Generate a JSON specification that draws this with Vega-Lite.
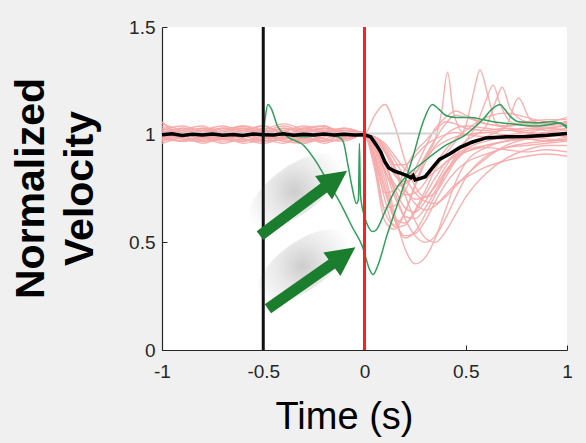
{
"$schema": "https://vega.github.io/schema/vega-lite/v6.json",
"width": 405, "height": 323,
"autosize": {"type": "none"},
"padding": {"left": 162, "top": 27, "right": 19, "bottom": 93},
"background": "#f0f0f0",
"config": {
  "view": {"fill": "white", "stroke": null},
  "font": "Liberation Sans",
  "axis": {"grid": false, "domainColor": "#262626", "domainWidth": 1.2, "tickColor": "#262626", "tickSize": -5, "labelColor": "#262626", "labelFontSize": 19, "labelFont": "Liberation Sans", "labelFlush": false, "labelOverlap": false, "titleColor": "#000000", "titleFont": "Liberation Sans"}
},
"datasets": {
"pink": [
{"g":1,"t":-1,"v":1.06},{"g":1,"t":-0.9,"v":0.99},{"g":1,"t":-0.8,"v":0.97},{"g":1,"t":-0.7,"v":1.01},{"g":1,"t":-0.6,"v":1.03},{"g":1,"t":-0.5,"v":0.99},{"g":1,"t":-0.4,"v":0.96},{"g":1,"t":-0.3,"v":1.0},{"g":1,"t":-0.2,"v":1.03},{"g":1,"t":-0.1,"v":0.99},{"g":1,"t":0,"v":1.0},
{"g":1,"t":0.05,"v":0.96},{"g":1,"t":0.1,"v":0.82},{"g":1,"t":0.15,"v":0.63},{"g":1,"t":0.2,"v":0.47},{"g":1,"t":0.25,"v":0.4},{"g":1,"t":0.3,"v":0.43},{"g":1,"t":0.35,"v":0.52},{"g":1,"t":0.4,"v":0.65},{"g":1,"t":0.45,"v":0.78},{"g":1,"t":0.5,"v":0.87},{"g":1,"t":0.6,"v":0.94},{"g":1,"t":0.7,"v":0.97},{"g":1,"t":0.8,"v":0.98},{"g":1,"t":0.9,"v":0.97},{"g":1,"t":1,"v":0.98},
{"g":2,"t":-1,"v":0.98},{"g":2,"t":-0.9,"v":1.02},{"g":2,"t":-0.8,"v":1.04},{"g":2,"t":-0.7,"v":0.99},{"g":2,"t":-0.6,"v":0.97},{"g":2,"t":-0.5,"v":1.01},{"g":2,"t":-0.4,"v":1.04},{"g":2,"t":-0.3,"v":1.01},{"g":2,"t":-0.2,"v":0.98},{"g":2,"t":-0.1,"v":1.01},{"g":2,"t":0,"v":1.0},
{"g":2,"t":0.05,"v":1.09},{"g":2,"t":0.1,"v":1.14},{"g":2,"t":0.15,"v":1.04},{"g":2,"t":0.2,"v":0.88},{"g":2,"t":0.25,"v":0.76},{"g":2,"t":0.3,"v":0.71},{"g":2,"t":0.35,"v":0.73},{"g":2,"t":0.4,"v":0.8},{"g":2,"t":0.45,"v":0.88},{"g":2,"t":0.5,"v":0.93},{"g":2,"t":0.6,"v":0.97},{"g":2,"t":0.7,"v":0.99},{"g":2,"t":0.8,"v":1.0},{"g":2,"t":0.9,"v":1.01},{"g":2,"t":1,"v":1.0},
{"g":3,"t":-1,"v":1.03},{"g":3,"t":-0.9,"v":1.0},{"g":3,"t":-0.8,"v":0.97},{"g":3,"t":-0.7,"v":0.98},{"g":3,"t":-0.6,"v":1.02},{"g":3,"t":-0.5,"v":1.04},{"g":3,"t":-0.4,"v":1.0},{"g":3,"t":-0.3,"v":0.96},{"g":3,"t":-0.2,"v":0.99},{"g":3,"t":-0.1,"v":1.02},{"g":3,"t":0,"v":1.01},
{"g":3,"t":0.05,"v":0.86},{"g":3,"t":0.1,"v":0.64},{"g":3,"t":0.15,"v":0.58},{"g":3,"t":0.2,"v":0.64},{"g":3,"t":0.25,"v":0.77},{"g":3,"t":0.3,"v":0.89},{"g":3,"t":0.35,"v":0.98},{"g":3,"t":0.38,"v":1.1},{"g":3,"t":0.41,"v":1.29},{"g":3,"t":0.44,"v":1.1},{"g":3,"t":0.5,"v":1.0},{"g":3,"t":0.6,"v":1.01},{"g":3,"t":0.7,"v":1.02},{"g":3,"t":0.8,"v":1.01},{"g":3,"t":0.9,"v":1.03},{"g":3,"t":1,"v":1.04},
{"g":4,"t":-1,"v":0.96},{"g":4,"t":-0.9,"v":0.99},{"g":4,"t":-0.8,"v":1.02},{"g":4,"t":-0.7,"v":1.04},{"g":4,"t":-0.6,"v":1.01},{"g":4,"t":-0.5,"v":0.98},{"g":4,"t":-0.4,"v":0.99},{"g":4,"t":-0.3,"v":1.03},{"g":4,"t":-0.2,"v":1.04},{"g":4,"t":-0.1,"v":1.0},{"g":4,"t":0,"v":0.99},
{"g":4,"t":0.05,"v":0.9},{"g":4,"t":0.1,"v":0.7},{"g":4,"t":0.15,"v":0.57},{"g":4,"t":0.2,"v":0.58},{"g":4,"t":0.25,"v":0.65},{"g":4,"t":0.3,"v":0.74},{"g":4,"t":0.35,"v":0.84},{"g":4,"t":0.4,"v":0.91},{"g":4,"t":0.45,"v":0.97},{"g":4,"t":0.5,"v":1.04},{"g":4,"t":0.54,"v":1.2},{"g":4,"t":0.57,"v":1.3},{"g":4,"t":0.61,"v":1.18},{"g":4,"t":0.65,"v":1.05},{"g":4,"t":0.7,"v":1.03},{"g":4,"t":0.8,"v":1.01},{"g":4,"t":0.9,"v":1.0},{"g":4,"t":1,"v":0.99},
{"g":5,"t":-1,"v":1.01},{"g":5,"t":-0.9,"v":1.03},{"g":5,"t":-0.8,"v":1.0},{"g":5,"t":-0.7,"v":0.97},{"g":5,"t":-0.6,"v":0.98},{"g":5,"t":-0.5,"v":1.02},{"g":5,"t":-0.4,"v":1.05},{"g":5,"t":-0.3,"v":1.02},{"g":5,"t":-0.2,"v":0.97},{"g":5,"t":-0.1,"v":0.98},{"g":5,"t":0,"v":1.0},
{"g":5,"t":0.05,"v":0.94},{"g":5,"t":0.1,"v":0.79},{"g":5,"t":0.15,"v":0.61},{"g":5,"t":0.2,"v":0.52},{"g":5,"t":0.25,"v":0.55},{"g":5,"t":0.3,"v":0.63},{"g":5,"t":0.35,"v":0.72},{"g":5,"t":0.4,"v":0.82},{"g":5,"t":0.45,"v":0.9},{"g":5,"t":0.5,"v":0.97},{"g":5,"t":0.55,"v":1.04},{"g":5,"t":0.6,"v":1.16},{"g":5,"t":0.635,"v":1.23},{"g":5,"t":0.67,"v":1.14},{"g":5,"t":0.72,"v":1.06},{"g":5,"t":0.8,"v":1.04},{"g":5,"t":0.9,"v":1.03},{"g":5,"t":1,"v":1.05},
{"g":6,"t":-1,"v":1.0},{"g":6,"t":-0.9,"v":0.97},{"g":6,"t":-0.8,"v":0.99},{"g":6,"t":-0.7,"v":1.02},{"g":6,"t":-0.6,"v":1.04},{"g":6,"t":-0.5,"v":1.0},{"g":6,"t":-0.4,"v":0.97},{"g":6,"t":-0.3,"v":0.98},{"g":6,"t":-0.2,"v":1.01},{"g":6,"t":-0.1,"v":1.03},{"g":6,"t":0,"v":1.0},
{"g":6,"t":0.05,"v":0.97},{"g":6,"t":0.1,"v":0.88},{"g":6,"t":0.15,"v":0.75},{"g":6,"t":0.2,"v":0.66},{"g":6,"t":0.25,"v":0.64},{"g":6,"t":0.3,"v":0.69},{"g":6,"t":0.35,"v":0.77},{"g":6,"t":0.4,"v":0.85},{"g":6,"t":0.45,"v":0.92},{"g":6,"t":0.5,"v":0.97},{"g":6,"t":0.6,"v":1.04},{"g":6,"t":0.65,"v":1.16},{"g":6,"t":0.68,"v":1.22},{"g":6,"t":0.72,"v":1.12},{"g":6,"t":0.8,"v":1.06},{"g":6,"t":0.9,"v":1.05},{"g":6,"t":1,"v":1.06},
{"g":7,"t":-1,"v":0.99},{"g":7,"t":-0.9,"v":1.01},{"g":7,"t":-0.8,"v":1.03},{"g":7,"t":-0.7,"v":1.0},{"g":7,"t":-0.6,"v":0.96},{"g":7,"t":-0.5,"v":0.98},{"g":7,"t":-0.4,"v":1.02},{"g":7,"t":-0.3,"v":1.03},{"g":7,"t":-0.2,"v":1.0},{"g":7,"t":-0.1,"v":0.98},{"g":7,"t":0,"v":1.0},
{"g":7,"t":0.05,"v":0.98},{"g":7,"t":0.1,"v":0.92},{"g":7,"t":0.15,"v":0.82},{"g":7,"t":0.2,"v":0.74},{"g":7,"t":0.25,"v":0.7},{"g":7,"t":0.3,"v":0.71},{"g":7,"t":0.35,"v":0.76},{"g":7,"t":0.4,"v":0.83},{"g":7,"t":0.45,"v":0.89},{"g":7,"t":0.5,"v":0.94},{"g":7,"t":0.6,"v":0.99},{"g":7,"t":0.7,"v":1.04},{"g":7,"t":0.76,"v":1.17},{"g":7,"t":0.82,"v":1.07},{"g":7,"t":0.9,"v":1.05},{"g":7,"t":1,"v":1.05},
{"g":8,"t":-1,"v":1.02},{"g":8,"t":-0.9,"v":0.98},{"g":8,"t":-0.8,"v":0.99},{"g":8,"t":-0.7,"v":1.03},{"g":8,"t":-0.6,"v":1.02},{"g":8,"t":-0.5,"v":0.97},{"g":8,"t":-0.4,"v":0.98},{"g":8,"t":-0.3,"v":1.02},{"g":8,"t":-0.2,"v":1.01},{"g":8,"t":-0.1,"v":0.99},{"g":8,"t":0,"v":1.01},
{"g":8,"t":0.05,"v":0.95},{"g":8,"t":0.1,"v":0.83},{"g":8,"t":0.15,"v":0.76},{"g":8,"t":0.2,"v":0.77},{"g":8,"t":0.25,"v":0.82},{"g":8,"t":0.3,"v":0.89},{"g":8,"t":0.35,"v":0.94},{"g":8,"t":0.4,"v":0.97},{"g":8,"t":0.45,"v":0.99},{"g":8,"t":0.5,"v":1.0},{"g":8,"t":0.6,"v":1.01},{"g":8,"t":0.7,"v":1.0},{"g":8,"t":0.8,"v":1.01},{"g":8,"t":0.9,"v":1.0},{"g":8,"t":1,"v":1.01},
{"g":9,"t":-1,"v":0.97},{"g":9,"t":-0.9,"v":1.0},{"g":9,"t":-0.8,"v":1.03},{"g":9,"t":-0.7,"v":1.02},{"g":9,"t":-0.6,"v":0.98},{"g":9,"t":-0.5,"v":0.97},{"g":9,"t":-0.4,"v":1.01},{"g":9,"t":-0.3,"v":1.04},{"g":9,"t":-0.2,"v":1.02},{"g":9,"t":-0.1,"v":0.99},{"g":9,"t":0,"v":1.0},
{"g":9,"t":0.05,"v":0.99},{"g":9,"t":0.1,"v":0.93},{"g":9,"t":0.15,"v":0.84},{"g":9,"t":0.2,"v":0.75},{"g":9,"t":0.25,"v":0.68},{"g":9,"t":0.3,"v":0.65},{"g":9,"t":0.35,"v":0.67},{"g":9,"t":0.4,"v":0.72},{"g":9,"t":0.45,"v":0.77},{"g":9,"t":0.5,"v":0.8},{"g":9,"t":0.6,"v":0.85},{"g":9,"t":0.7,"v":0.88},{"g":9,"t":0.8,"v":0.9},{"g":9,"t":0.9,"v":0.91},{"g":9,"t":1,"v":0.9},
{"g":10,"t":-1,"v":1.04},{"g":10,"t":-0.9,"v":1.01},{"g":10,"t":-0.8,"v":0.98},{"g":10,"t":-0.7,"v":0.99},{"g":10,"t":-0.6,"v":1.02},{"g":10,"t":-0.5,"v":1.01},{"g":10,"t":-0.4,"v":0.97},{"g":10,"t":-0.3,"v":0.96},{"g":10,"t":-0.2,"v":1.0},{"g":10,"t":-0.1,"v":1.03},{"g":10,"t":0,"v":1.0},
{"g":10,"t":0.05,"v":0.84},{"g":10,"t":0.1,"v":0.6},{"g":10,"t":0.15,"v":0.56},{"g":10,"t":0.2,"v":0.64},{"g":10,"t":0.25,"v":0.76},{"g":10,"t":0.3,"v":0.87},{"g":10,"t":0.35,"v":0.95},{"g":10,"t":0.4,"v":1.0},{"g":10,"t":0.45,"v":1.03},{"g":10,"t":0.5,"v":1.04},{"g":10,"t":0.6,"v":1.03},{"g":10,"t":0.7,"v":1.02},{"g":10,"t":0.8,"v":1.03},{"g":10,"t":0.9,"v":1.02},{"g":10,"t":1,"v":1.03},
{"g":11,"t":-1,"v":1.0},{"g":11,"t":-0.9,"v":1.02},{"g":11,"t":-0.8,"v":0.99},{"g":11,"t":-0.7,"v":0.96},{"g":11,"t":-0.6,"v":0.99},{"g":11,"t":-0.5,"v":1.03},{"g":11,"t":-0.4,"v":1.02},{"g":11,"t":-0.3,"v":0.99},{"g":11,"t":-0.2,"v":0.97},{"g":11,"t":-0.1,"v":1.0},{"g":11,"t":0,"v":0.99},
{"g":11,"t":0.05,"v":0.97},{"g":11,"t":0.1,"v":0.89},{"g":11,"t":0.15,"v":0.81},{"g":11,"t":0.2,"v":0.78},{"g":11,"t":0.25,"v":0.82},{"g":11,"t":0.3,"v":0.9},{"g":11,"t":0.35,"v":0.98},{"g":11,"t":0.4,"v":1.05},{"g":11,"t":0.45,"v":1.09},{"g":11,"t":0.5,"v":1.08},{"g":11,"t":0.6,"v":1.05},{"g":11,"t":0.7,"v":1.04},{"g":11,"t":0.8,"v":1.05},{"g":11,"t":0.9,"v":1.04},{"g":11,"t":1,"v":1.06},
{"g":12,"t":-1,"v":0.98},{"g":12,"t":-0.9,"v":0.97},{"g":12,"t":-0.8,"v":1.0},{"g":12,"t":-0.7,"v":1.03},{"g":12,"t":-0.6,"v":1.03},{"g":12,"t":-0.5,"v":1.0},{"g":12,"t":-0.4,"v":0.98},{"g":12,"t":-0.3,"v":1.0},{"g":12,"t":-0.2,"v":1.03},{"g":12,"t":-0.1,"v":1.01},{"g":12,"t":0,"v":1.0},
{"g":12,"t":0.05,"v":0.99},{"g":12,"t":0.1,"v":0.94},{"g":12,"t":0.15,"v":0.85},{"g":12,"t":0.2,"v":0.72},{"g":12,"t":0.25,"v":0.6},{"g":12,"t":0.3,"v":0.52},{"g":12,"t":0.35,"v":0.5},{"g":12,"t":0.4,"v":0.55},{"g":12,"t":0.45,"v":0.63},{"g":12,"t":0.5,"v":0.71},{"g":12,"t":0.6,"v":0.82},{"g":12,"t":0.7,"v":0.89},{"g":12,"t":0.8,"v":0.93},{"g":12,"t":0.9,"v":0.95},{"g":12,"t":1,"v":0.95},
{"g":13,"t":-1,"v":1.02},{"g":13,"t":-0.9,"v":1.04},{"g":13,"t":-0.8,"v":1.01},{"g":13,"t":-0.7,"v":0.98},{"g":13,"t":-0.6,"v":0.97},{"g":13,"t":-0.5,"v":1.0},{"g":13,"t":-0.4,"v":1.03},{"g":13,"t":-0.3,"v":1.01},{"g":13,"t":-0.2,"v":0.98},{"g":13,"t":-0.1,"v":0.97},{"g":13,"t":0,"v":1.0},
{"g":13,"t":0.05,"v":0.95},{"g":13,"t":0.1,"v":0.84},{"g":13,"t":0.15,"v":0.71},{"g":13,"t":0.2,"v":0.62},{"g":13,"t":0.25,"v":0.61},{"g":13,"t":0.3,"v":0.66},{"g":13,"t":0.35,"v":0.74},{"g":13,"t":0.4,"v":0.82},{"g":13,"t":0.45,"v":0.88},{"g":13,"t":0.5,"v":0.92},{"g":13,"t":0.6,"v":0.94},{"g":13,"t":0.7,"v":0.93},{"g":13,"t":0.8,"v":0.92},{"g":13,"t":0.9,"v":0.93},{"g":13,"t":1,"v":0.92},
{"g":14,"t":-1,"v":0.99},{"g":14,"t":-0.9,"v":0.97},{"g":14,"t":-0.8,"v":0.98},{"g":14,"t":-0.7,"v":1.01},{"g":14,"t":-0.6,"v":1.04},{"g":14,"t":-0.5,"v":1.02},{"g":14,"t":-0.4,"v":0.99},{"g":14,"t":-0.3,"v":0.97},{"g":14,"t":-0.2,"v":0.99},{"g":14,"t":-0.1,"v":1.02},{"g":14,"t":0,"v":1.01},
{"g":14,"t":0.05,"v":0.9},{"g":14,"t":0.1,"v":0.73},{"g":14,"t":0.15,"v":0.74},{"g":14,"t":0.2,"v":0.84},{"g":14,"t":0.25,"v":0.92},{"g":14,"t":0.3,"v":0.97},{"g":14,"t":0.35,"v":1.02},{"g":14,"t":0.4,"v":1.06},{"g":14,"t":0.45,"v":1.05},{"g":14,"t":0.5,"v":1.03},{"g":14,"t":0.6,"v":1.02},{"g":14,"t":0.7,"v":1.03},{"g":14,"t":0.8,"v":1.02},{"g":14,"t":0.9,"v":1.03},{"g":14,"t":1,"v":1.02},
{"g":15,"t":-1,"v":1.01},{"g":15,"t":-0.9,"v":0.99},{"g":15,"t":-0.8,"v":1.02},{"g":15,"t":-0.7,"v":1.0},{"g":15,"t":-0.6,"v":0.97},{"g":15,"t":-0.5,"v":0.99},{"g":15,"t":-0.4,"v":1.03},{"g":15,"t":-0.3,"v":1.0},{"g":15,"t":-0.2,"v":0.96},{"g":15,"t":-0.1,"v":0.99},{"g":15,"t":0,"v":1.0},
{"g":15,"t":0.05,"v":0.93},{"g":15,"t":0.1,"v":0.76},{"g":15,"t":0.15,"v":0.6},{"g":15,"t":0.2,"v":0.53},{"g":15,"t":0.25,"v":0.54},{"g":15,"t":0.3,"v":0.6},{"g":15,"t":0.35,"v":0.69},{"g":15,"t":0.4,"v":0.77},{"g":15,"t":0.45,"v":0.83},{"g":15,"t":0.5,"v":0.87},{"g":15,"t":0.6,"v":0.91},{"g":15,"t":0.7,"v":0.94},{"g":15,"t":0.8,"v":0.95},{"g":15,"t":0.9,"v":0.96},{"g":15,"t":1,"v":0.97},
{"g":16,"t":-1,"v":0.97},{"g":16,"t":-0.9,"v":1.01},{"g":16,"t":-0.8,"v":1.0},{"g":16,"t":-0.7,"v":0.98},{"g":16,"t":-0.6,"v":1.01},{"g":16,"t":-0.5,"v":1.04},{"g":16,"t":-0.4,"v":1.0},{"g":16,"t":-0.3,"v":0.97},{"g":16,"t":-0.2,"v":1.0},{"g":16,"t":-0.1,"v":1.02},{"g":16,"t":0,"v":1.0},
{"g":16,"t":0.05,"v":0.98},{"g":16,"t":0.1,"v":0.92},{"g":16,"t":0.15,"v":0.86},{"g":16,"t":0.2,"v":0.86},{"g":16,"t":0.25,"v":0.9},{"g":16,"t":0.3,"v":0.95},{"g":16,"t":0.35,"v":0.98},{"g":16,"t":0.4,"v":1.0},{"g":16,"t":0.45,"v":1.01},{"g":16,"t":0.5,"v":1.0},{"g":16,"t":0.6,"v":0.99},{"g":16,"t":0.7,"v":0.98},{"g":16,"t":0.8,"v":0.99},{"g":16,"t":0.9,"v":0.98},{"g":16,"t":1,"v":0.97},
{"g":17,"t":-1,"v":1.03},{"g":17,"t":-0.9,"v":1.0},{"g":17,"t":-0.8,"v":0.96},{"g":17,"t":-0.7,"v":0.99},{"g":17,"t":-0.6,"v":1.02},{"g":17,"t":-0.5,"v":0.99},{"g":17,"t":-0.4,"v":0.98},{"g":17,"t":-0.3,"v":1.02},{"g":17,"t":-0.2,"v":1.04},{"g":17,"t":-0.1,"v":1.0},{"g":17,"t":0,"v":1.0},
{"g":17,"t":0.05,"v":0.99},{"g":17,"t":0.1,"v":0.95},{"g":17,"t":0.15,"v":0.88},{"g":17,"t":0.2,"v":0.8},{"g":17,"t":0.25,"v":0.73},{"g":17,"t":0.3,"v":0.69},{"g":17,"t":0.35,"v":0.68},{"g":17,"t":0.4,"v":0.71},{"g":17,"t":0.45,"v":0.76},{"g":17,"t":0.5,"v":0.81},{"g":17,"t":0.6,"v":0.89},{"g":17,"t":0.7,"v":0.95},{"g":17,"t":0.8,"v":0.98},{"g":17,"t":0.9,"v":0.99},{"g":17,"t":1,"v":1.0},
{"g":18,"t":-1,"v":1.0},{"g":18,"t":-0.9,"v":1.03},{"g":18,"t":-0.8,"v":1.02},{"g":18,"t":-0.7,"v":0.98},{"g":18,"t":-0.6,"v":0.99},{"g":18,"t":-0.5,"v":1.01},{"g":18,"t":-0.4,"v":0.98},{"g":18,"t":-0.3,"v":0.99},{"g":18,"t":-0.2,"v":1.02},{"g":18,"t":-0.1,"v":1.01},{"g":18,"t":0,"v":1.0},
{"g":18,"t":0.05,"v":0.91},{"g":18,"t":0.1,"v":0.74},{"g":18,"t":0.15,"v":0.61},{"g":18,"t":0.2,"v":0.59},{"g":18,"t":0.25,"v":0.64},{"g":18,"t":0.3,"v":0.72},{"g":18,"t":0.35,"v":0.8},{"g":18,"t":0.4,"v":0.87},{"g":18,"t":0.45,"v":0.91},{"g":18,"t":0.5,"v":0.93},{"g":18,"t":0.6,"v":0.95},{"g":18,"t":0.7,"v":0.97},{"g":18,"t":0.8,"v":0.98},{"g":18,"t":0.9,"v":0.97},{"g":18,"t":1,"v":0.98},
{"g":19,"t":-1,"v":0.98},{"g":19,"t":-0.9,"v":0.99},{"g":19,"t":-0.8,"v":1.02},{"g":19,"t":-0.7,"v":1.01},{"g":19,"t":-0.6,"v":0.98},{"g":19,"t":-0.5,"v":0.96},{"g":19,"t":-0.4,"v":0.99},{"g":19,"t":-0.3,"v":1.03},{"g":19,"t":-0.2,"v":1.01},{"g":19,"t":-0.1,"v":0.98},{"g":19,"t":0,"v":1.0},
{"g":19,"t":0.05,"v":0.99},{"g":19,"t":0.1,"v":0.96},{"g":19,"t":0.15,"v":0.9},{"g":19,"t":0.2,"v":0.84},{"g":19,"t":0.25,"v":0.81},{"g":19,"t":0.3,"v":0.8},{"g":19,"t":0.35,"v":0.83},{"g":19,"t":0.4,"v":0.87},{"g":19,"t":0.45,"v":0.9},{"g":19,"t":0.5,"v":0.92},{"g":19,"t":0.6,"v":0.95},{"g":19,"t":0.7,"v":0.97},{"g":19,"t":0.8,"v":0.99},{"g":19,"t":0.9,"v":1.01},{"g":19,"t":1,"v":1.02},
{"g":20,"t":-1,"v":1.05},{"g":20,"t":-0.9,"v":1.02},{"g":20,"t":-0.8,"v":0.99},{"g":20,"t":-0.7,"v":0.98},{"g":20,"t":-0.6,"v":1.0},{"g":20,"t":-0.5,"v":1.02},{"g":20,"t":-0.4,"v":1.01},{"g":20,"t":-0.3,"v":0.98},{"g":20,"t":-0.2,"v":0.97},{"g":20,"t":-0.1,"v":1.0},{"g":20,"t":0,"v":1.0},
{"g":20,"t":0.05,"v":0.88},{"g":20,"t":0.1,"v":0.66},{"g":20,"t":0.15,"v":0.67},{"g":20,"t":0.2,"v":0.74},{"g":20,"t":0.25,"v":0.84},{"g":20,"t":0.3,"v":0.94},{"g":20,"t":0.35,"v":1.03},{"g":20,"t":0.4,"v":1.08},{"g":20,"t":0.45,"v":1.11},{"g":20,"t":0.5,"v":1.09},{"g":20,"t":0.6,"v":1.05},{"g":20,"t":0.7,"v":1.04},{"g":20,"t":0.8,"v":1.06},{"g":20,"t":0.9,"v":1.07},{"g":20,"t":1,"v":1.07},
{"g":21,"t":-1,"v":0.99},{"g":21,"t":-0.9,"v":1.0},{"g":21,"t":-0.8,"v":1.01},{"g":21,"t":-0.7,"v":1.03},{"g":21,"t":-0.6,"v":1.0},{"g":21,"t":-0.5,"v":0.97},{"g":21,"t":-0.4,"v":0.98},{"g":21,"t":-0.3,"v":1.01},{"g":21,"t":-0.2,"v":1.03},{"g":21,"t":-0.1,"v":1.02},{"g":21,"t":0,"v":1.0},
{"g":21,"t":0.05,"v":0.97},{"g":21,"t":0.1,"v":0.87},{"g":21,"t":0.15,"v":0.73},{"g":21,"t":0.2,"v":0.61},{"g":21,"t":0.25,"v":0.53},{"g":21,"t":0.3,"v":0.5},{"g":21,"t":0.35,"v":0.53},{"g":21,"t":0.4,"v":0.61},{"g":21,"t":0.45,"v":0.71},{"g":21,"t":0.5,"v":0.8},{"g":21,"t":0.6,"v":0.9},{"g":21,"t":0.7,"v":0.94},{"g":21,"t":0.8,"v":0.96},{"g":21,"t":0.9,"v":0.97},{"g":21,"t":1,"v":0.99},
{"g":22,"t":-1,"v":1.01},{"g":22,"t":-0.9,"v":0.98},{"g":22,"t":-0.8,"v":0.97},{"g":22,"t":-0.7,"v":1.0},{"g":22,"t":-0.6,"v":1.03},{"g":22,"t":-0.5,"v":1.02},{"g":22,"t":-0.4,"v":0.99},{"g":22,"t":-0.3,"v":0.98},{"g":22,"t":-0.2,"v":1.01},{"g":22,"t":-0.1,"v":1.0},{"g":22,"t":0,"v":0.99},
{"g":22,"t":0.05,"v":0.96},{"g":22,"t":0.1,"v":0.86},{"g":22,"t":0.15,"v":0.77},{"g":22,"t":0.2,"v":0.72},{"g":22,"t":0.25,"v":0.73},{"g":22,"t":0.3,"v":0.78},{"g":22,"t":0.35,"v":0.86},{"g":22,"t":0.4,"v":0.93},{"g":22,"t":0.45,"v":0.98},{"g":22,"t":0.5,"v":1.02},{"g":22,"t":0.6,"v":1.08},{"g":22,"t":0.7,"v":1.1},{"g":22,"t":0.8,"v":1.08},{"g":22,"t":0.9,"v":1.06},{"g":22,"t":1,"v":1.08}
],
"gray": [{"t":-1,"v":1.005},{"t":0.37,"v":1.005}],
"green": [
{"g":"A","t":-0.5,"v":1.0},{"g":"A","t":-0.49,"v":1.08},{"g":"A","t":-0.477,"v":1.14},{"g":"A","t":-0.46,"v":1.12},{"g":"A","t":-0.43,"v":1.04},{"g":"A","t":-0.38,"v":0.99},{"g":"A","t":-0.3,"v":0.95},{"g":"A","t":-0.25,"v":0.89},{"g":"A","t":-0.21,"v":0.83},{"g":"A","t":-0.17,"v":0.76},{"g":"A","t":-0.136,"v":0.71},{"g":"A","t":-0.11,"v":0.665},{"g":"A","t":-0.06,"v":0.57},{"g":"A","t":-0.01,"v":0.48},{"g":"A","t":0.027,"v":0.37},{"g":"A","t":0.042,"v":0.35},{"g":"A","t":0.065,"v":0.39},{"g":"A","t":0.11,"v":0.53},{"g":"A","t":0.175,"v":0.71},{"g":"A","t":0.24,"v":0.9},{"g":"A","t":0.29,"v":1.06},{"g":"A","t":0.335,"v":1.14},{"g":"A","t":0.365,"v":1.12},{"g":"A","t":0.4,"v":1.09},{"g":"A","t":0.45,"v":1.08},{"g":"A","t":0.52,"v":1.08},{"g":"A","t":0.585,"v":1.07},{"g":"A","t":0.635,"v":1.06},{"g":"A","t":0.73,"v":1.05},{"g":"A","t":0.85,"v":1.04},{"g":"A","t":0.93,"v":1.05},{"g":"A","t":0.96,"v":1.055},{"g":"A","t":1,"v":1.03},
{"g":"B","t":-0.5,"v":1.0},{"g":"B","t":-0.4,"v":1.0},{"g":"B","t":-0.3,"v":0.99},{"g":"B","t":-0.2,"v":1.0},{"g":"B","t":-0.13,"v":0.99},{"g":"B","t":-0.106,"v":0.97},{"g":"B","t":-0.08,"v":0.85},{"g":"B","t":-0.06,"v":0.75},{"g":"B","t":-0.04,"v":0.68},{"g":"B","t":-0.03,"v":0.7},{"g":"B","t":-0.025,"v":0.96},{"g":"B","t":-0.02,"v":0.72},{"g":"B","t":0,"v":0.62},{"g":"B","t":0.02,"v":0.57},{"g":"B","t":0.04,"v":0.55},{"g":"B","t":0.06,"v":0.56},{"g":"B","t":0.1,"v":0.64},{"g":"B","t":0.15,"v":0.74},{"g":"B","t":0.2,"v":0.8},{"g":"B","t":0.3,"v":0.88},{"g":"B","t":0.4,"v":0.95},{"g":"B","t":0.5,"v":1.0},{"g":"B","t":0.55,"v":1.04},{"g":"B","t":0.585,"v":1.07},{"g":"B","t":0.62,"v":1.11},{"g":"B","t":0.67,"v":1.14},{"g":"B","t":0.69,"v":1.12},{"g":"B","t":0.72,"v":1.085},{"g":"B","t":0.76,"v":1.06},{"g":"B","t":0.85,"v":1.055},{"g":"B","t":0.92,"v":1.06},{"g":"B","t":0.96,"v":1.055},{"g":"B","t":1,"v":1.04}
],
"mean": [
{"t":-1,"v":1.0},{"t":-0.95,"v":1.004},{"t":-0.9,"v":0.996},{"t":-0.85,"v":1.002},{"t":-0.8,"v":0.998},{"t":-0.75,"v":1.003},{"t":-0.7,"v":0.997},{"t":-0.65,"v":1.001},{"t":-0.6,"v":0.996},{"t":-0.55,"v":1.003},{"t":-0.5,"v":1.0},{"t":-0.45,"v":0.998},{"t":-0.4,"v":1.004},{"t":-0.35,"v":0.997},{"t":-0.3,"v":1.002},{"t":-0.25,"v":0.998},{"t":-0.2,"v":1.003},{"t":-0.15,"v":0.999},{"t":-0.1,"v":1.002},{"t":-0.05,"v":0.998},{"t":0,"v":1.0},
{"t":0.03,"v":0.99},{"t":0.06,"v":0.95},{"t":0.08,"v":0.92},{"t":0.1,"v":0.875},{"t":0.12,"v":0.845},{"t":0.15,"v":0.83},{"t":0.18,"v":0.82},{"t":0.21,"v":0.81},{"t":0.23,"v":0.8},{"t":0.24,"v":0.81},{"t":0.25,"v":0.79},{"t":0.27,"v":0.795},{"t":0.3,"v":0.805},{"t":0.33,"v":0.84},{"t":0.37,"v":0.885},{"t":0.42,"v":0.91},{"t":0.47,"v":0.94},{"t":0.53,"v":0.965},{"t":0.6,"v":0.985},{"t":0.7,"v":0.99},{"t":0.8,"v":0.992},{"t":0.9,"v":0.997},{"t":1,"v":1.005}
],
"cue": [{"t":-0.5,"v":0,"v2":1.5}],
"onset": [{"t":0,"v":0,"v2":1.5}],
"shadow": [{"a":1,"t":-0.345,"v":0.74},{"a":2,"t":-0.306,"v":0.39}],
"arrows": [
{"a":1,"t":-0.144,"v":0.793,"t2":-0.516,"v2":0.531},
{"a":2,"t":-0.103,"v":0.438,"t2":-0.477,"v2":0.191}
]
},
"encoding": {
  "x": {"field": "t", "type": "quantitative", "scale": {"domain": [-1, 1], "nice": false, "zero": false},
    "axis": {"values": [-1, -0.5, 0, 0.5, 1], "labelExpr": "toString(datum.value)", "labelPadding": 17, "title": "Time (s)", "titleFontSize": 38, "titleFontWeight": "normal", "titleX": 182, "titleY": 78, "titleAlign": "center", "titleBaseline": "alphabetic"}},
  "y": {"field": "v", "type": "quantitative", "scale": {"domain": [0, 1.5], "nice": false, "zero": false},
    "axis": {"values": [0, 0.5, 1, 1.5], "labelExpr": "toString(datum.value)", "labelPadding": 12, "title": ["Normalized", "Velocity"], "titleFontSize": 41, "titleFontWeight": "bold", "titleLineHeight": 49, "titleAngle": -90, "titleX": -119, "titleY": 161, "titleAlign": "center", "titleBaseline": "alphabetic"}}
},
"layer": [
{
  "data": {"name": "pink"},
  "mark": {"type": "line", "color": "#f5a9a9", "strokeWidth": 1.4, "opacity": 0.9, "interpolate": "monotone"},
  "encoding": {"detail": {"field": "g", "type": "nominal"}}
},
{
  "data": {"name": "gray"},
  "mark": {"type": "line", "color": "#d3d3d3", "strokeWidth": 2},
  "encoding": {}
},
{
  "data": {"name": "green"},
  "mark": {"type": "line", "color": "#2f9f5c", "strokeWidth": 1.5, "interpolate": "monotone"},
  "encoding": {"detail": {"field": "g", "type": "nominal"}}
},
{
  "data": {"name": "mean"},
  "mark": {"type": "line", "color": "#000000", "strokeWidth": 3.5},
  "encoding": {}
},
{
  "data": {"name": "cue"},
  "mark": {"type": "rule", "color": "#111111", "strokeWidth": 3},
  "encoding": {"y2": {"field": "v2"}}
},
{
  "data": {"name": "onset"},
  "mark": {"type": "rule", "color": "#ff1f1f", "strokeWidth": 3},
  "encoding": {"y2": {"field": "v2"}}
},
{
  "data": {"name": "shadow"},
  "mark": {"type": "point", "shape": "M-1,0A1,0.45 0 1,0 1,0A1,0.45 0 1,0 -1,0Z", "filled": true, "opacity": 1, "size": 11500, "angle": -36, "strokeWidth": 0,
    "fill": {"gradient": "radial", "x1": 0.5, "y1": 0.5, "r1": 0, "x2": 0.5, "y2": 0.5, "r2": 0.5, "stops": [{"offset": 0, "color": "rgba(90,90,90,0.3)"}, {"offset": 0.45, "color": "rgba(90,90,90,0.14)"}, {"offset": 1, "color": "rgba(90,90,90,0)"}]}},
  "encoding": {}
},
{
  "data": {"name": "arrows"},
  "mark": {"type": "rule", "color": "#1b7d2e", "strokeWidth": 11},
  "encoding": {"x2": {"field": "t2"}, "y2": {"field": "v2"}}
},
{
  "data": {"name": "arrows"},
  "mark": {"type": "point", "shape": "M1,0L-1,-1L-1,1Z", "filled": true, "color": "#1b7d2e", "opacity": 1, "size": 841, "angle": -36},
  "encoding": {}
}
]
}
